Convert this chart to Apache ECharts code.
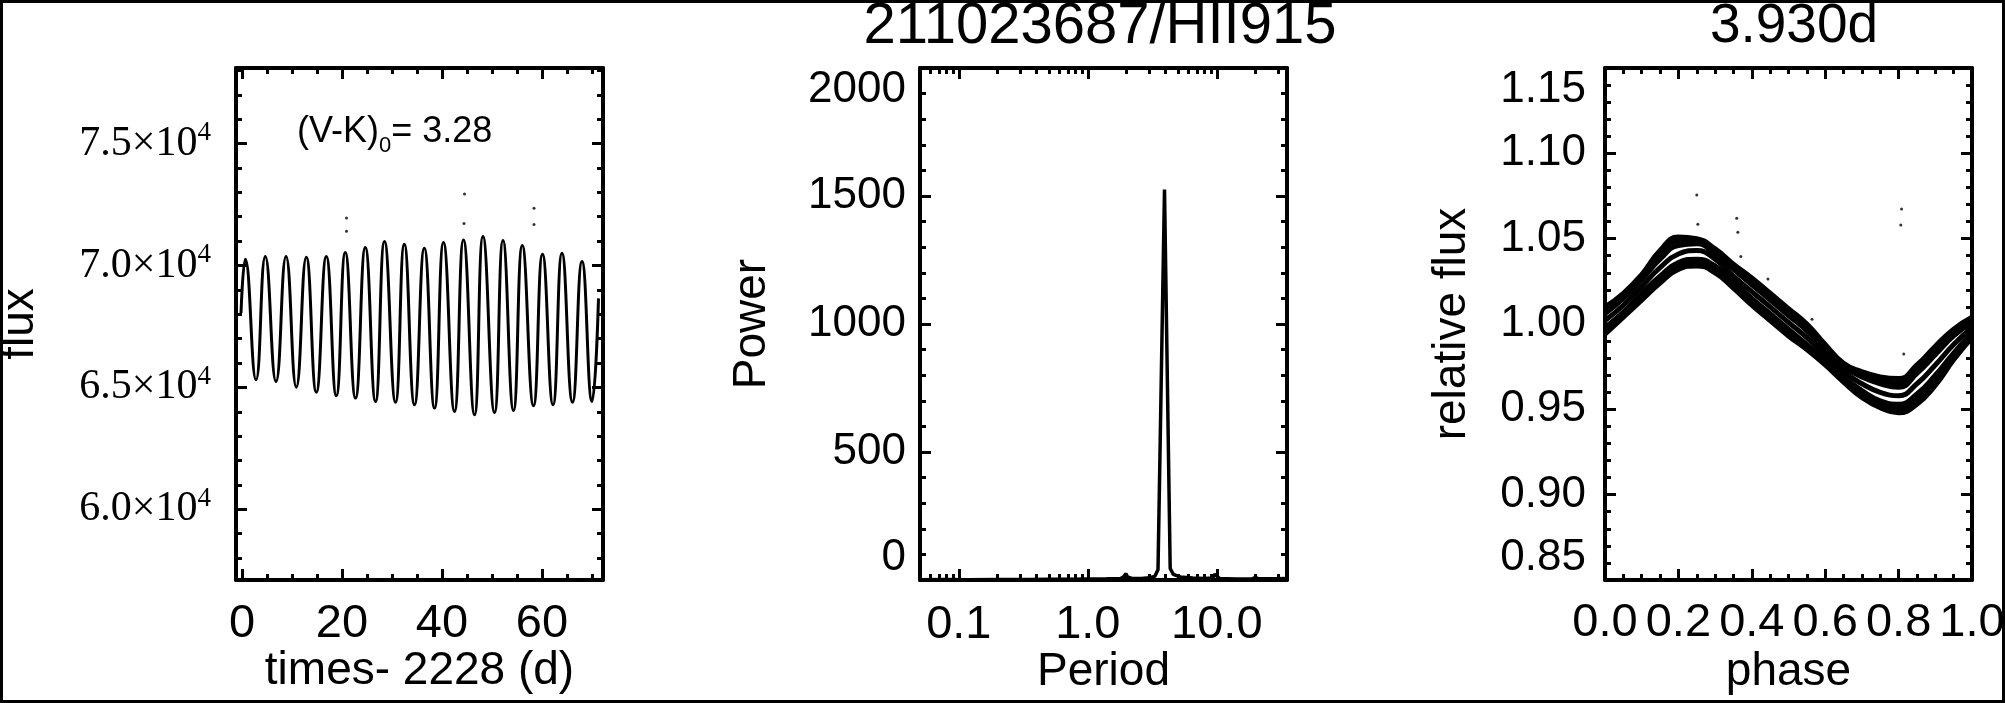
<!DOCTYPE html>
<html><head><meta charset="utf-8">
<script src="https://cdn.jsdelivr.net/npm/echarts@6/dist/echarts.min.js"></script>
<style>html,body{margin:0;padding:0;background:#fff}#c{width:2005px;height:703px}</style>
</head><body><div id="c"></div><script>
// ---------- Panel 1: light curve (extrema) ----------
const lcTime = [-0.2, 0.66, 2.8, 4.66, 6.8, 8.8, 10.86, 12.86, 14.86, 16.86, 18.86, 20.66, 22.7, 24.66, 26.7, 28.5, 30.7, 32.46, 34.5, 36.46, 38.5, 40.3, 42.5, 44.3, 46.5, 48.2, 50.5, 52.2, 54.3, 56.06, 58.3, 60.1, 62.2, 64.0, 66.1, 68.0, 70.0, 71.3];
const lcFlux = [68050, 70260, 65310, 70365, 65240, 70365, 65010, 70340, 64805, 70365, 64654, 70530, 64560, 70735, 64420, 70980, 64395, 70873, 64285, 70709, 64150, 70940, 64010, 71050, 63875, 71185, 63970, 71020, 64050, 70816, 64244, 70463, 64285, 70504, 64395, 70160, 64420, 68650];
const lcOutTime = [20.9, 20.9, 44.5, 44.4, 58.4, 58.4];
const lcOutFlux = [71950, 71400, 72930, 71720, 72350, 71680];
const timeMajorTicks = [0, 20, 40, 60];
const timeMinorTicks = [5, 10, 15, 25, 30, 35, 45, 50, 55, 65, 70];
const fluxMajorTicks = [60000, 65000, 70000, 75000];
const fluxMinorTicks = [58000, 59000, 61000, 62000, 63000, 64000, 66000, 67000, 68000, 69000, 71000, 72000, 73000, 74000, 76000, 77000, 78000];

// ---------- Panel 2: periodogram ----------
const pgPeriod = [0.05, 0.08, 0.12, 0.2, 0.35, 0.5, 0.7, 1.0, 1.4, 1.8, 1.92, 1.97, 2.03, 2.2, 2.6, 3.0, 3.3, 3.5, 3.93, 4.35, 4.6, 5.2, 6.5, 8.0, 9.3, 9.6, 9.9, 10.5, 14, 19, 20, 21, 28, 35];
const pgPower  = [1, 2, 1, 2, 2, 3, 3, 4, 5, 6, 15, 25, 12, 6, 6, 9, 14, 40, 1525, 45, 22, 12, 8, 6, 8, 22, 22, 6, 4, 5, 10, 5, 5, 6];
const periodMajorTicks = [0.1, 1, 10];
const periodMinorTicks = [0.06, 0.07, 0.08, 0.09, 0.2, 0.3, 0.4, 0.5, 0.6, 0.7, 0.8, 0.9, 2, 3, 4, 5, 6, 7, 8, 9, 20, 30];
const powerMajorTicks = [0, 500, 1000, 1500, 2000];
const powerMinorTicks = [100, 200, 300, 400, 600, 700, 800, 900, 1100, 1200, 1300, 1400, 1600, 1700, 1800, 1900];

// ---------- Panel 3: phase-folded strands ----------
const phaseGrid = [0, 0.05, 0.10, 0.15, 0.20, 0.25, 0.30, 0.35, 0.40, 0.45, 0.50, 0.55, 0.60, 0.65, 0.70, 0.75, 0.80, 0.85, 0.90, 0.95, 1.00];
const strandUpper    = [1.010, 1.018, 1.029, 1.043, 1.051, 1.050, 1.044, 1.035, 1.027, 1.018, 1.009, 1.000, 0.988, 0.977, 0.972, 0.969, 0.968, 0.976, 0.987, 0.997, 1.004];
const strandUpper2   = [1.008, 1.0165, 1.0275, 1.0405, 1.0485, 1.0485, 1.0425, 1.0335, 1.025, 1.016, 1.007, 0.998, 0.9865, 0.976, 0.9705, 0.967, 0.9655, 0.9735, 0.9845, 0.995, 1.0025];
const strandMidUpper = [1.006, 1.015, 1.026, 1.038, 1.046, 1.047, 1.041, 1.032, 1.023, 1.014, 1.005, 0.996, 0.985, 0.975, 0.969, 0.965, 0.963, 0.971, 0.982, 0.993, 1.001];
const strandMid      = [1.002, 1.011, 1.022, 1.033, 1.041, 1.043, 1.038, 1.028, 1.019, 1.010, 1.001, 0.992, 0.982, 0.972, 0.965, 0.960, 0.958, 0.965, 0.976, 0.988, 0.998];
const strandMidLower = [0.998, 1.007, 1.018, 1.028, 1.036, 1.038, 1.034, 1.025, 1.015, 1.006, 0.997, 0.988, 0.979, 0.969, 0.961, 0.955, 0.953, 0.959, 0.970, 0.983, 0.995];
const strandLower2   = [0.996, 1.0055, 1.016, 1.026, 1.034, 1.036, 1.032, 1.023, 1.013, 1.004, 0.995, 0.9865, 0.9775, 0.9675, 0.959, 0.953, 0.9505, 0.956, 0.967, 0.981, 0.9935];
const strandLower    = [0.994, 1.004, 1.014, 1.024, 1.032, 1.034, 1.030, 1.021, 1.011, 1.002, 0.993, 0.985, 0.976, 0.966, 0.957, 0.951, 0.948, 0.953, 0.964, 0.979, 0.992];
const phOutPhase = [0.250, 0.253, 0.359, 0.362, 0.370, 0.444, 0.564, 0.808, 0.806, 0.814, 0.892];
const phOutFlux  = [1.0756, 1.0585, 1.0619, 1.0537, 1.0395, 1.0264, 1.0028, 1.0674, 1.058, 0.9824, 0.9844];
const phaseMajorTicks = [0, 0.2, 0.4, 0.6, 0.8, 1.0];
const phaseMinorTicks = [0.05, 0.1, 0.15, 0.25, 0.3, 0.35, 0.45, 0.5, 0.55, 0.65, 0.7, 0.75, 0.85, 0.9, 0.95];
const relMajorTicks = [0.85, 0.90, 0.95, 1.00, 1.05, 1.10, 1.15];
const relMinorTicks = [0.86, 0.87, 0.88, 0.89, 0.91, 0.92, 0.93, 0.94, 0.96, 0.97, 0.98, 0.99, 1.01, 1.02, 1.03, 1.04, 1.06, 1.07, 1.08, 1.09, 1.11, 1.12, 1.13, 1.14];

const titles = ['211023687/HII915', '3.930d'];

const SANS = 'Liberation Sans';
const BLACK = '#000';

function axisSet(grid, dim, o) {
  const posA = dim === 'x' ? 'bottom' : 'left';
  const posB = dim === 'x' ? 'top' : 'right';
  const base = { gridIndex: grid, type: o.type || 'value', min: o.min, max: o.max, splitLine: { show: false }, minorTick: { show: false } };
  if (o.type === 'log') base.logBase = 10;
  const major = (pos, withLabel) => Object.assign({}, base, {
    position: pos,
    axisLine: { show: true, onZero: false, lineStyle: { color: BLACK, width: 4 } },
    axisTick: { show: true, inside: true, length: 11, customValues: o.major, lineStyle: { color: BLACK, width: 3 } },
    axisLabel: withLabel ? Object.assign({ show: true, customValues: o.major, color: BLACK, fontFamily: SANS, fontSize: o.fs, margin: o.margin, formatter: o.fmt, hideOverlap: false }, o.labelExtra || {}) : { show: false },
    name: withLabel ? o.name : '',
    nameLocation: 'middle', nameGap: o.nameGap, nameMoveOverlap: false,
    nameTextStyle: { fontFamily: SANS, fontSize: 46, color: BLACK }
  });
  const minor = (pos) => Object.assign({}, base, {
    position: pos,
    axisLine: { show: false, onZero: false },
    axisTick: { show: true, inside: true, length: 6, customValues: o.minor, lineStyle: { color: BLACK, width: 3 } },
    axisLabel: { show: false }
  });
  return [major(posA, true), minor(posA), major(posB, false), minor(posB)];
}

const xAxes = [].concat(
  axisSet(0, 'x', { min: -1.2, max: 72.2, major: timeMajorTicks, minor: timeMinorTicks, fs: 47, margin: 21, fmt: v => String(v), name: 'times- 2228 (d)', nameGap: 68 }),
  axisSet(1, 'x', { type: 'log', min: 0.05, max: 35, major: periodMajorTicks, minor: periodMinorTicks, fs: 47, margin: 22, fmt: v => Number(v).toFixed(1), name: 'Period', nameGap: 69 }),
  axisSet(2, 'x', { min: 0, max: 1, major: phaseMajorTicks, minor: phaseMinorTicks, fs: 47, margin: 20, fmt: v => Number(v).toFixed(1), name: 'phase', nameGap: 69 })
);
const yAxes = [].concat(
  axisSet(0, 'y', { min: 57100, max: 78100, major: fluxMajorTicks, minor: fluxMinorTicks, fs: 42, margin: 25,
    fmt: v => '{m|' + (v / 1e4).toFixed(1) + '×10}{s|4}', name: 'flux', nameGap: 193,
    labelExtra: { rich: { m: { fontFamily: 'Liberation Serif', fontSize: 42, color: BLACK }, s: { fontFamily: 'Liberation Serif', fontSize: 27, color: BLACK, padding: [0, 0, 21, 0] } } } }),
  axisSet(1, 'y', { min: 0, max: 2000, major: powerMajorTicks, minor: powerMinorTicks, fs: 44, margin: 14, fmt: v => String(v), name: 'Power', nameGap: 145,
    labelExtra: { verticalAlignMinLabel: 'bottom', verticalAlignMaxLabel: 'top' } }),
  axisSet(2, 'y', { min: 0.85, max: 1.15, major: relMajorTicks, minor: relMinorTicks, fs: 44, margin: 19, fmt: v => Number(v).toFixed(2), name: 'relative flux', nameGap: 130,
    labelExtra: { verticalAlignMinLabel: 'bottom', verticalAlignMaxLabel: 'top' } })
);

const zip = (a, b) => a.map((v, i) => [v, b[i]]);
const strandSeries = [strandUpper, strandUpper2, strandMidUpper, strandMid, strandMidLower, strandLower2, strandLower].map(s => ({
  type: 'line', xAxisIndex: 8, yAxisIndex: 8, data: zip(phaseGrid, s), smooth: true, showSymbol: false,
  lineStyle: { color: BLACK, width: 5 }, silent: true
}));

const option = {
  animation: false,
  backgroundColor: '#fff',
  grid: [
    { left: 236, top: 68, width: 367, height: 512, outerBoundsMode: 'none', containLabel: false },
    { left: 920, top: 68, width: 367, height: 512, outerBoundsMode: 'none', containLabel: false },
    { left: 1605, top: 68, width: 367, height: 512, outerBoundsMode: 'none', containLabel: false }
  ],
  xAxis: xAxes,
  yAxis: yAxes,
  series: [
    { type: 'line', xAxisIndex: 0, yAxisIndex: 0, data: zip(lcTime, lcFlux), smooth: true, showSymbol: false, lineStyle: { color: BLACK, width: 3 }, silent: true },
    { type: 'scatter', xAxisIndex: 0, yAxisIndex: 0, data: zip(lcOutTime, lcOutFlux), symbolSize: 3, itemStyle: { color: BLACK }, silent: true },
    { type: 'line', xAxisIndex: 4, yAxisIndex: 4, data: zip(pgPeriod, pgPower), showSymbol: false, lineStyle: { color: BLACK, width: 3.5 }, silent: true },
    ...strandSeries,
    { type: 'scatter', xAxisIndex: 8, yAxisIndex: 8, data: zip(phOutPhase, phOutFlux), symbolSize: 3, itemStyle: { color: BLACK }, silent: true }
  ],
  graphic: [
    { type: 'rect', shape: { x: 1.5, y: 1.5, width: 2002, height: 700 }, style: { fill: 'none', stroke: BLACK, lineWidth: 3 }, silent: true },
    { type: 'text', x: 1100, y: 27, style: { text: titles[0], fill: BLACK, font: '58px "Liberation Sans"', align: 'center', verticalAlign: 'middle' } },
    { type: 'text', x: 1794, y: 27, style: { text: titles[1], fill: BLACK, font: '55px "Liberation Sans"', align: 'center', verticalAlign: 'middle' } },
    { type: 'text', x: 297, y: 132, style: { text: '(V-K){sub|0}= 3.28', fill: BLACK, font: '36px "Liberation Sans"', align: 'left', verticalAlign: 'middle',
        rich: { sub: { fontFamily: SANS, fontSize: 22, fill: BLACK, padding: [28, 0, 0, 0] } } } }
  ]
};
const chart = echarts.init(document.getElementById('c'), null, { renderer: 'canvas' });
chart.setOption(option);
</script></body></html>
